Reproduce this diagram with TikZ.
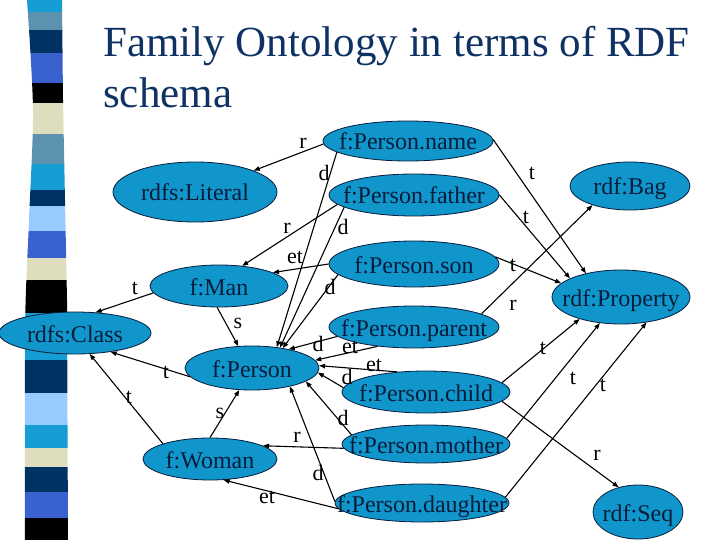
\documentclass[tikz,border=0pt]{standalone}
\usepackage{fontspec}
\setmainfont{Liberation Serif}
\usetikzlibrary{shapes.geometric,arrows.meta}
\definecolor{ovalblue}{RGB}{16,150,202}
\definecolor{inkblue}{RGB}{8,28,60}
\definecolor{titleblue}{RGB}{14,50,100}
\definecolor{barcyan}{RGB}{22,158,212}
\definecolor{barsteel}{RGB}{92,146,176}
\definecolor{barnavy}{RGB}{0,50,100}
\definecolor{barroyal}{RGB}{58,98,206}
\definecolor{barbeige}{RGB}{222,222,190}
\definecolor{barlight}{RGB}{152,202,255}
\newcommand{\ovaltext}[1]{\makebox[0pt]{#1}}

\begin{document}
\begin{tikzpicture}[x=1pt,y=-1pt,
  concept/.style={ellipse,draw=inkblue,line width=.8pt,fill=ovalblue,inner sep=0pt,
    text=inkblue,font=\fontsize{24}{28}\selectfont,text height=18pt,text depth=0pt},
  rel/.style={draw=black,line width=1.1pt,-{Triangle[length=6pt,width=4.5pt]}},
  lab/.style={font=\fontsize{22}{24}\selectfont,inner sep=0pt},
  headline/.style={anchor=base west,inner sep=0pt,text=titleblue,font=\fontsize{43}{51}\selectfont}]
\useasboundingbox (0,0) rectangle (720,540);
% stripe bar
\begin{scope}
\clip plot[smooth] coordinates {(27,0) (33,110) (29,220) (25,330) (25,540)}
  -- (68,540) -- (67,300) -- (63,100) -- (62,0) -- cycle;
\foreach \ya/\yb/\col in {0/12/barcyan,12/30/barsteel,30/53/barnavy,53/83/barroyal,
  83/103/black,103/134/barbeige,134/164/barsteel,164/190/barcyan,190/206/barnavy,
  206/231/barlight,231/258/barroyal,258/280/barbeige,280/313/black,313/360/barcyan,
  360/393/barnavy,393/425/barlight,425/448/barcyan,448/467/barbeige,467/492/barnavy,
  492/518/barroyal,518/540/black}
  \fill[\col] (0,\ya) rectangle (80,\yb);
\end{scope}
% title
\node[headline] (title1) at (103,57) {Family Ontology in terms of RDF};
\node[headline] (title2) at (103,108) {schema};
% classes and properties
\node[concept,minimum width=170,minimum height=40] (pname)   at (408,141) {\ovaltext{f:Person.name}};
\node[concept,minimum width=164,minimum height=60] (lit)     at (195,192) {\ovaltext{rdfs:Literal}};
\node[concept,minimum width=170,minimum height=42] (pfather) at (414,195) {\ovaltext{f:Person.father}};
\node[concept,minimum width=170,minimum height=46] (pson)    at (414,264) {\ovaltext{f:Person.son}};
\node[concept,minimum width=138,minimum height=42] (man)     at (219,286) {\ovaltext{f:Man}};
\node[concept,minimum width=152,minimum height=42] (class)   at (75,333)  {\ovaltext{rdfs:Class}};
\node[concept,minimum width=170,minimum height=42] (ppar)    at (414,327) {\ovaltext{f:Person.parent}};
\node[concept,minimum width=134,minimum height=44] (person)  at (252,368) {\ovaltext{f:Person}};
\node[concept,minimum width=168,minimum height=42] (pchild)  at (426,392) {\ovaltext{f:Person.child}};
\node[concept,minimum width=168,minimum height=38] (pmother) at (426,444) {\ovaltext{f:Person.mother}};
\node[concept,minimum width=134,minimum height=42] (woman)   at (210,459) {\ovaltext{f:Woman}};
\node[concept,minimum width=174,minimum height=38] (pdau)    at (422,503) {\ovaltext{f:Person.daughter}};
\node[concept,minimum width=120,minimum height=48] (bag)     at (630,186) {\ovaltext{rdf:Bag}};
\node[concept,minimum width=138,minimum height=54] (prop)    at (621,297) {\ovaltext{rdf:Property}};
\node[concept,minimum width=90,minimum height=54]  (seq)     at (638,512) {\ovaltext{rdf:Seq}};
% relations
\draw[rel] (pname.182) -- (lit.20);
\draw[rel] (pname.189) -- (person.40);
\draw[rel] (pfather.187) -- (man.41);
\draw[rel] (pfather.190) -- (person.36);
\draw[rel] (pson.180) -- (man.14);
\draw[rel] (pson.188) -- (person.33);
\draw[rel] (man.186) -- (class.45);
\draw[rel] (man.265) -- (person.122);
\draw[rel] (person.188) -- (class.332);
\draw[rel] (woman.162) -- (class.305);
\draw[rel] (woman.90) -- (person.240);
\draw[rel] (ppar.187) -- (person.27);
\draw[rel] (ppar.208) -- (person.7);
\draw[rel] (pchild.145) -- (person.2);
\draw[rel] (pchild.177) -- (person.356);
\draw[rel] (pmother.173) -- (person.346);
\draw[rel] (pmother.183) -- (woman.14);
\draw[rel] (pdau.179) -- (person.334);
\draw[rel] (pdau.184) -- (woman.303);
\draw[rel] (pname.1) -- (prop.146);
\draw[rel] (pfather.0) -- (prop.160);
\draw[rel] (pson.5) -- (prop.167);
\draw[rel] (ppar.11) -- (bag.207);
\draw[rel] (pchild.7) -- (prop.208);
\draw[rel] (pmother.4) -- (prop.231);
\draw[rel] (pdau.4) -- (prop.315);
\draw[rel] (pchild.353) -- (seq.128);
% relation labels
\node[lab] (lab1)  at (303,143) {r};
\node[lab] (lab2)  at (324,173) {d};
\node[lab] (lab3)  at (287,228) {r};
\node[lab] (lab4)  at (343,227) {d};
\node[lab] (lab5)  at (295,257) {et};
\node[lab] (lab6)  at (330,287) {d};
\node[lab] (lab7)  at (135,288) {t};
\node[lab] (lab8)  at (238,323) {s};
\node[lab] (lab9)  at (166,372) {t};
\node[lab] (lab10) at (129,397) {t};
\node[lab] (lab11) at (220,413) {s};
\node[lab] (lab12) at (318,344) {d};
\node[lab] (lab13) at (350,347) {et};
\node[lab] (lab14) at (374,365) {et};
\node[lab] (lab15) at (347,377) {d};
\node[lab] (lab16) at (343,418) {d};
\node[lab] (lab17) at (297,437) {r};
\node[lab] (lab18) at (318,473) {d};
\node[lab] (lab19) at (267,497) {et};
\node[lab] (lab20) at (532,173) {t};
\node[lab] (lab21) at (526,217) {t};
\node[lab] (lab22) at (513,265) {t};
\node[lab] (lab23) at (513,305) {r};
\node[lab] (lab24) at (543,348) {t};
\node[lab] (lab25) at (573,378) {t};
\node[lab] (lab26) at (603,385) {t};
\node[lab] (lab27) at (597,455) {r};
\end{tikzpicture}
\end{document}
